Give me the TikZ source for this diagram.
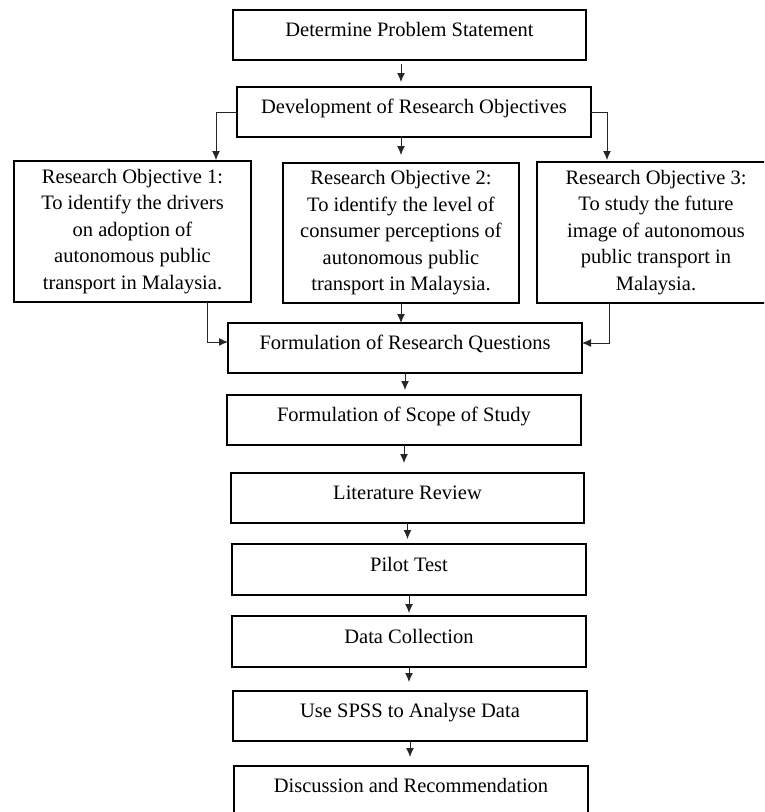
\documentclass[tikz,border=0pt]{standalone}
\usepackage{fontspec}
\setmainfont{Liberation Serif}
\usetikzlibrary{arrows.meta,calc}
\tikzset{
  box/.style={draw=black, line width=1.8pt, inner sep=0pt, outer sep=0pt, align=center,
    font=\fontsize{20.5}{26.5}\selectfont},
  sbox/.style={box, minimum width=354pt, minimum height=50pt, text height=0.7em, text depth=0.35em},
  robox/.style={box, minimum width=237pt, minimum height=141pt},
  arr/.style={draw=black!85, line width=1pt, -{Latex[length=9pt,width=8pt]}},
}
\begin{document}
\begin{tikzpicture}[x=1pt,y=-1pt]
\useasboundingbox (0,0) rectangle (764,812);
\clip (0,0) rectangle (764,812);
\node[sbox, minimum width=353pt] (prob) at (409.5,35) {Determine Problem Statement};
\node[sbox] (dev) at (414,112) {Development of Research Objectives};
\node[robox] (ro1) at (132.5,231.5) {Research Objective 1:\\To identify the drivers\\on adoption of\\autonomous public\\transport in Malaysia.};
\node[robox, minimum width=236pt, minimum height=140pt] (ro2) at (401,233) {Research Objective 2:\\To identify the level of\\consumer perceptions of\\autonomous public\\transport in Malaysia.};
\node[robox, minimum width=238pt] (ro3) at (656,232.5) {Research Objective 3:\\To study the future\\image of autonomous\\public transport in\\Malaysia.};
\node[sbox] (frq) at (405,348) {Formulation of Research Questions};
\node[sbox] (scope) at (404,420) {Formulation of Scope of Study};
\node[sbox, minimum width=353pt] (lit) at (407.5,498) {Literature Review};
\node[sbox, minimum height=51pt] (pilot) at (409,569.5) {Pilot Test};
\node[sbox, minimum height=51pt] (data) at (409,641.5) {Data Collection};
\node[sbox] (spss) at (410,716) {Use SPSS to Analyse Data};
\node[sbox] (disc) at (411,791) {Discussion and Recommendation};
% connectors
\draw[arr, shorten <=4pt, shorten >=5pt] (prob.south -| ro2.center) -- (dev.north -| ro2.center);
\draw[arr, shorten >=8pt] (dev.south -| ro2.center) -- (ro2.north);
\draw[arr, shorten >=1pt] (dev.west) -| ([xshift=83.5pt]ro1.north);
\draw[arr, shorten >=2pt] (dev.east) -| ([xshift=-49pt]ro3.north);
\draw[arr] ([xshift=74.5pt]ro1.south) |- ([yshift=6pt]frq.west);
\draw[arr] ([xshift=-47pt]ro3.south) |- ([yshift=5pt]frq.east);
\draw[arr] (ro2.south) -- (frq.north -| ro2.south);
\draw[arr, shorten >=5pt] (frq.south) -- (frq.south |- scope.north);
\draw[arr, shorten >=10pt] (scope.south) -- (scope.south |- lit.north);
\draw[arr, shorten >=5pt] (lit.south) -- (lit.south |- pilot.north);
\draw[arr, shorten >=3pt] (pilot.south) -- (pilot.south |- data.north);
\draw[arr, shorten >=9pt] (data.south) -- (data.south |- spss.north);
\draw[arr, shorten >=9pt] (spss.south) -- (spss.south |- disc.north);
\end{tikzpicture}
\end{document}
